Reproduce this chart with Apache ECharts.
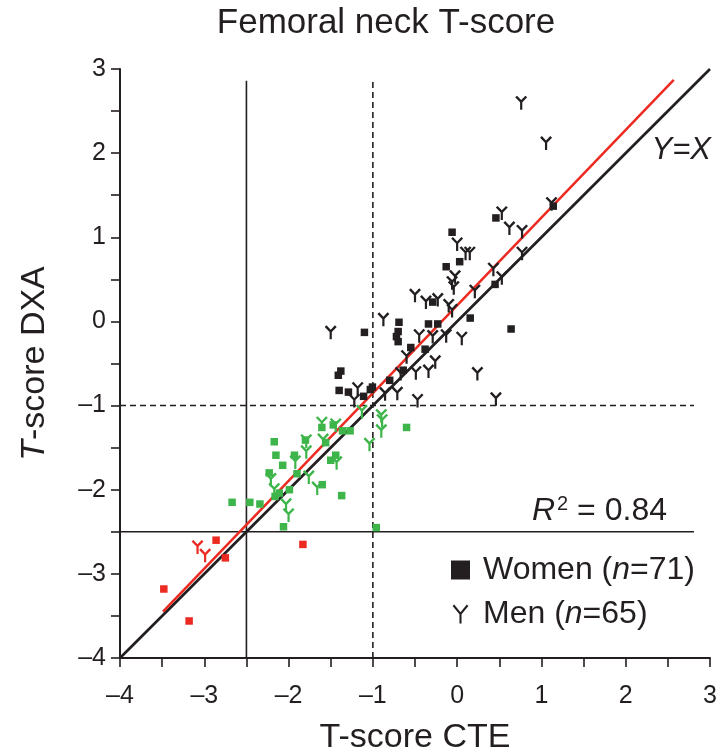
<!DOCTYPE html>
<html><head><meta charset="utf-8">
<script src="https://cdn.jsdelivr.net/npm/echarts@6/dist/echarts.min.js"></script>
<style>html,body{margin:0;padding:0;background:#fff}#c{width:719px;height:755px}</style>
</head><body><div id="c"></div>
<script>
// ---- data (T-scores: [CTE, DXA]) ----
const womenBlack = [[1.14,1.37],[0.46,1.23],[-0.06,1.06],[-0.13,0.65],[0.03,0.71],[0.45,0.44],[0.155,0.04],[0.64,-0.09],[-0.29,0.23],[-0.34,-0.03],[-0.23,-0.03],[-0.69,-0.01],[-0.70,-0.12],[-0.72,-0.18],[-0.70,-0.24],[-1.10,-0.13],[-0.55,-0.31],[-0.38,-0.33],[-1.38,-0.59],[-1.41,-0.64],[-1.40,-0.82],[-1.29,-0.84],[-1.11,-0.89],[-1.03,-0.81],[-1.005,-0.78],[-0.80,-0.70],[-0.64,-0.58]];
const womenGreen = [[-1.605,-1.26],[-1.47,-1.23],[-1.36,-1.30],[-1.27,-1.30],[-1.56,-1.44],[-1.44,-1.59],[-1.50,-1.65],[-2.17,-1.43],[-2.15,-1.59],[-2.07,-1.71],[-2.23,-1.80],[-1.90,-1.81],[-1.93,-1.59],[-1.80,-1.41],[-1.99,-2.00],[-2.11,-2.04],[-2.16,-2.08],[-2.34,-2.17],[-2.46,-2.15],[-2.67,-2.15],[-2.06,-2.44],[-1.60,-1.94],[-1.37,-2.07],[-0.96,-2.45],[-0.60,-1.26]];
const womenRed = [[-2.86,-2.60],[-2.75,-2.81],[-3.48,-3.18],[-3.18,-3.56],[-1.83,-2.65]];
const menBlack = [[0.76,2.60],[1.055,2.12],[1.12,1.40],[0.53,1.29],[0.62,1.11],[0.77,1.07],[0.77,0.81],[0.00,0.92],[0.10,0.81],[0.15,0.81],[0.43,0.62],[0.53,0.52],[-0.025,0.53],[-0.06,0.46],[-0.04,0.40],[0.21,0.36],[-0.50,0.31],[-0.37,0.23],[-0.23,0.26],[-0.10,0.19],[-0.06,0.13],[-0.875,0.025],[-1.50,-0.13],[-0.45,-0.17],[-0.29,-0.18],[-0.13,-0.17],[0.055,-0.20],[-0.60,-0.42],[-0.26,-0.48],[-0.34,-0.59],[-0.49,-0.61],[-0.67,-0.62],[0.24,-0.62],[-0.71,-0.855],[-0.855,-0.86],[-1.18,-0.80],[-1.22,-0.94],[-0.47,-0.94],[0.46,-0.92]];
const menGreen = [[-1.605,-1.21],[-1.44,-1.23],[-1.59,-1.41],[-1.79,-1.42],[-1.79,-1.55],[-1.92,-1.67],[-1.76,-1.85],[-1.66,-1.98],[-2.21,-1.88],[-2.17,-2.00],[-2.03,-2.18],[-2.00,-2.30],[-1.43,-1.68],[-1.13,-1.07],[-0.90,-1.12],[-0.89,-1.18],[-0.90,-1.30],[-1.04,-1.46]];
const menRed = [[-3.08,-2.68],[-2.99,-2.78]];
const identityLine = [[-4,-4],[3,3]];
const regressionLine = [[-3.49,-3.45],[2.57,2.87]];
const osteoporosisLineV = [[-2.5,-4],[-2.5,2.86]];
const osteopeniaLineV = [[-1,-4],[-1,2.88]];
const osteopeniaLineH = [[-4,-1],[2.81,-1]];
const osteoporosisLineH = [[-4,-2.5],[2.81,-2.5]];
const axisMin = -4, axisMax = 3, tickStep = 0.5;
const womenLabel = 'Women (n=71)', menLabel = 'Men (n=65)';
const r2Text = '0.84';

const INK = '#231f20', GREEN = '#3db54a', RED = '#ec2a22';
const FONT = '"Liberation Sans", Arial, Helvetica, sans-serif';
const Y_PATH = 'path://M0,1.6 L1.8,0 L6,4.4 L10.2,0 L12,1.6 L7.1,6.6 L7.1,14 L4.9,14 L4.9,6.6 Z';
const Y_PATH_LEG = 'path://M0,1 L1,0 L5,4.9 L9,0 L10,1 L5.65,6.2 L5.65,12 L4.35,12 L4.35,6.2 Z';

const chart = echarts.init(document.getElementById('c'), null, {renderer:'canvas'});
const fmt = v => Number.isInteger(v) ? String(v).replace('-', '\u2013') : '';
const axisCommon = {
  type:'value', min:axisMin, max:axisMax, interval:tickStep,
  splitLine:{show:false},
  axisLine:{show:true, onZero:false, lineStyle:{color:INK, width:2}},
  axisTick:{show:true, length:9, lineStyle:{color:INK, width:1.6}},
  axisLabel:{formatter:fmt, color:INK, fontSize:25, fontFamily:FONT},
  nameLocation:'middle',
  nameTextStyle:{color:INK, fontSize:34, fontFamily:FONT}
};
function lineSeries(data, color, width, type, z){
  return {type:'line', data, symbol:'none', silent:true, z, animation:false,
    lineStyle:{color, width, type}};
}
function scat(name, data, color, isMen){
  return {type:'scatter', name, data, animation:false, z:5,
    symbol: isMen ? Y_PATH : 'rect',
    symbolSize: isMen ? [12,14] : 7.5,
    symbolKeepAspect:false,
    itemStyle:{color, opacity:1}};
}
chart.setOption({
  animation:false,
  textStyle:{fontFamily:FONT},
  title:{text:'Femoral neck T-score', left:381, top:1, textAlign:'center',
    textStyle:{color:INK, fontSize:35, fontWeight:'normal', fontFamily:FONT}},
  grid:{left:120, top:69, width:590, height:589, containLabel:false, outerBoundsMode:'none'},
  xAxis:Object.assign({}, axisCommon, {name:'T-score CTE', nameGap:63,
    axisLabel:Object.assign({}, axisCommon.axisLabel, {margin:26})}),
  yAxis:Object.assign({}, axisCommon, {name:'{i|T}-score DXA', nameGap:68,
    nameTextStyle:Object.assign({}, axisCommon.nameTextStyle,
      {rich:{i:{fontStyle:'italic', fontSize:34, color:INK, fontFamily:FONT}}}),
    axisLabel:Object.assign({}, axisCommon.axisLabel, {margin:14})}),
  legend:{
    orient:'vertical', left:446, top:549, itemWidth:19, itemHeight:19, itemGap:12,
    selectedMode:false,
    data:[{name:womenLabel, icon:'rect'}, {name:menLabel, icon:Y_PATH_LEG}],
    formatter: n => n.replace('(n=', '({i|n}='),
    textStyle:{color:INK, fontSize:32, fontFamily:FONT, padding:[0,0,0,8],
      rich:{i:{fontStyle:'italic', fontSize:32, color:INK, fontFamily:FONT}}}
  },
  graphic:[
    {type:'text', right:8, top:135, style:{text:'Y=X', fill:INK, fontSize:31, fontStyle:'italic', fontFamily:FONT}},
    {type:'text', left:532, top:494, style:{
      text:'{i|R}{s|2} = ' + r2Text,
      fill:INK, fontSize:32, fontFamily:FONT,
      rich:{i:{fontStyle:'italic', fontSize:32, fill:INK, fontFamily:FONT},
            s:{fontSize:20, fill:INK, fontFamily:FONT, padding:[0,0,15,2]}}}}
  ],
  series:[
    lineSeries(osteoporosisLineV, INK, 1.6, 'solid', 1),
    lineSeries(osteoporosisLineH, INK, 1.6, 'solid', 1),
    lineSeries(osteopeniaLineV, INK, 1.6, [6,4], 1),
    lineSeries(osteopeniaLineH, INK, 1.6, [6,4], 1),
    lineSeries(identityLine, INK, 2.7, 'solid', 2),
    lineSeries(regressionLine, RED, 2.5, 'solid', 3),
    scat(womenLabel, womenBlack, INK, false),
    scat('Women green', womenGreen, GREEN, false),
    scat('Women red', womenRed, RED, false),
    scat(menLabel, menBlack, INK, true),
    scat('Men green', menGreen, GREEN, true),
    scat('Men red', menRed, RED, true)
  ]
});
</script></body></html>
